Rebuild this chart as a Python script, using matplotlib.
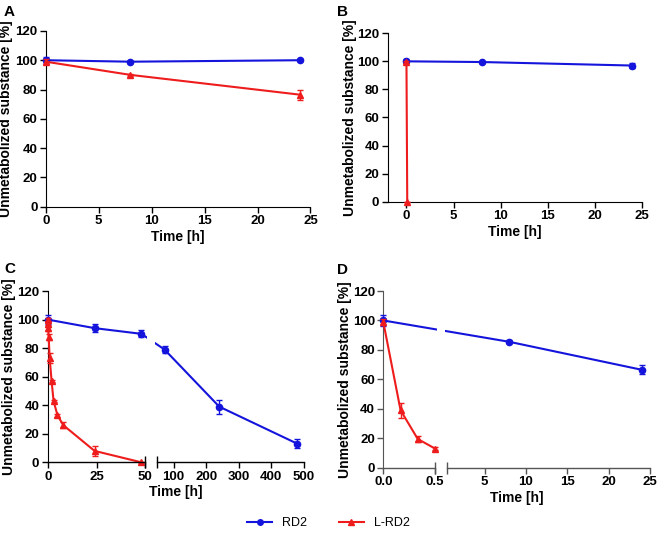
import numpy as np
import matplotlib
matplotlib.use('agg')
import matplotlib.pyplot as plt
from matplotlib.lines import Line2D
from matplotlib.patches import Rectangle
from matplotlib import font_manager

plt.rcParams['font.family'] = ['Liberation Sans', 'DejaVu Sans']
plt.rcParams['font.weight'] = 'bold'
plt.rcParams['font.size'] = 9

BLUE = '#1414dc'
RED = '#ee1c1c'

# panel A
a_t_rd2 = [0, 8, 24]
a_rd2 = [100, 99, 100]
a_rd2_err = [2, 0.8, 0.8]
a_t_lrd2 = [0, 8, 24]
a_lrd2 = [99, 90, 76.5]
a_lrd2_err = [1.5, 0.8, 3.5]

# panel B
b_t_rd2 = [0, 8, 24]
b_rd2 = [100, 99.5, 97]
b_rd2_err = [1.5, 0.8, 2]
b_t_lrd2 = [0, 0.083]
b_lrd2 = [99.5, 0]
b_lrd2_err = [1, 0]

# panel C
c_t_rd2 = [0, 24, 48, 72, 240, 480]
c_rd2 = [100, 94, 90, 79, 39, 13]
c_rd2_err = [3, 3, 2.5, 2.5, 5, 3]
c_t_lrd2 = [0, 0.083, 0.25, 0.5, 1, 2, 3, 5, 8, 24, 48]
c_lrd2 = [100, 97, 94, 88, 73, 57, 43, 33, 26, 8, 0]
c_lrd2_err = [1, 2, 2, 2, 3.5, 1, 1, 1, 2, 3.5, 0.5]

# panel D
d_t_rd2 = [0, 8, 24]
d_rd2 = [100, 85.5, 66.5]
d_rd2_err = [4, 1, 3]
d_t_lrd2 = [0, 0.167, 0.333, 0.5]
d_lrd2 = [99, 39, 19.5, 13]
d_lrd2_err = [2, 5, 2, 1]

BOLD = font_manager.FontProperties(family=['Liberation Sans', 'DejaVu Sans'],
                                   weight='bold', size=9.5)


def broken_scale(b, hi, w1, gap):
    def fwd(x):
        x = np.asarray(x, float)
        return np.where(x <= b, x / b * w1,
                        w1 + gap + (x - b) / (hi - b) * (1 - w1 - gap))

    def inv(u):
        u = np.asarray(u, float)
        return np.where(u <= w1, u / w1 * b,
                        np.where(u < w1 + gap, b,
                                 b + (u - w1 - gap) / (1 - w1 - gap) * (hi - b)))
    return fwd, inv


def series(ax, t, y, err, color, marker, ms, z):
    cont = ax.errorbar(t, y, yerr=err, color=color, marker=marker, ms=ms,
                       lw=1.5, capsize=2.5, elinewidth=1, capthick=1,
                       zorder=z, clip_on=False)
    cont.lines[0].set_clip_on(False)
    for art in cont.lines[1] + cont.lines[2]:
        art.set_clip_on(False)
        art.set_zorder(z)


def style(ax, label, lx, ly, ylx):
    ax.spines['top'].set_visible(False)
    ax.spines['right'].set_visible(False)
    ax.set_ylim(0, 120)
    ax.set_yticks(range(0, 121, 20))
    ax.tick_params(length=4, width=1, pad=2)
    for t in ax.get_xticklabels() + ax.get_yticklabels():
        t.set_fontproperties(BOLD)
    ax.set_ylabel('Unmetabolized substance [%]', fontsize=10, fontweight='bold')
    ax.yaxis.set_label_coords(ylx, 0.5)
    ax.set_xlabel('Time [h]', fontsize=10, fontweight='bold', labelpad=2)
    ax.text(lx, ly, label, transform=ax.transAxes, fontsize=11,
            fontweight='bold', ha='left', va='top')


def add_break(ax, w1, gap, col):
    ax.spines['bottom'].set_visible(False)
    tr = ax.transAxes
    ax.plot([0, w1], [0, 0], color=col, lw=1, transform=tr, clip_on=False, zorder=6)
    ax.plot([w1 + gap, 1], [0, 0], color=col, lw=1, transform=tr, clip_on=False, zorder=6)
    ax.plot([w1, w1 + gap], [0, 0], ls='none', marker='|', ms=8, mew=1,
            color=col, transform=tr, clip_on=False, zorder=6)
    ax.add_patch(Rectangle((w1 + 0.006, 0.01), gap - 0.014, 0.99, transform=tr,
                           facecolor='white', edgecolor='none', zorder=3.5))


fig = plt.figure(figsize=(6.57, 5.33), dpi=100)

axA = fig.add_axes([0.0696, 0.612, 0.403, 0.330])
series(axA, a_t_rd2, a_rd2, a_rd2_err, BLUE, 'o', 4.5, 3)
series(axA, a_t_lrd2, a_lrd2, a_lrd2_err, RED, '^', 4.5, 4)
axA.set_xlim(0, 25)
axA.set_xticks(range(0, 26, 5))
style(axA, 'A', -0.16, 1.15, -0.122)

axB = fig.add_axes([0.590, 0.6216, 0.387, 0.316])
series(axB, b_t_rd2, b_rd2, b_rd2_err, BLUE, 'o', 4.5, 3)
series(axB, b_t_lrd2, b_lrd2, b_lrd2_err, RED, '^', 4.5, 4)
axB.set_xlim(-2, 25)
axB.set_xticks(range(0, 26, 5))
style(axB, 'B', -0.2, 1.17, -0.122)

axC = fig.add_axes([0.0726, 0.1326, 0.390, 0.3214])
fwd, inv = broken_scale(50, 500, 0.381, 0.047)
axC.set_xscale('function', functions=(fwd, inv))
series(axC, c_t_rd2, c_rd2, c_rd2_err, BLUE, 'o', 4.5, 3)
series(axC, c_t_lrd2, c_lrd2, c_lrd2_err, RED, '^', 4.5, 4)
axC.set_xlim(0, 500)
axC.set_xticks([0, 25, 50, 100, 200, 300, 400, 500])
axC.set_xticklabels(['0', '25', '50', '100', '200', '300', '400', '500'])
axC.xaxis.set_minor_locator(matplotlib.ticker.NullLocator())
style(axC, 'C', -0.17, 1.17, -0.122)
add_break(axC, 0.381, 0.047, 'black')

axD = fig.add_axes([0.5834, 0.1225, 0.406, 0.3315])
fwd, inv = broken_scale(0.5, 25, 0.194, 0.046)
axD.set_xscale('function', functions=(fwd, inv))
series(axD, d_t_rd2, d_rd2, d_rd2_err, BLUE, 'o', 4.5, 3)
series(axD, d_t_lrd2, d_lrd2, d_lrd2_err, RED, '^', 4.5, 4)
axD.set_xlim(0, 25)
axD.set_xticks([0, 0.5, 5, 10, 15, 20, 25])
axD.set_xticklabels(['0.0', '0.5', '5', '10', '15', '20', '25'])
axD.xaxis.set_minor_locator(matplotlib.ticker.NullLocator())
style(axD, 'D', -0.175, 1.16, -0.118)
add_break(axD, 0.194, 0.046, '#555555')
axD.spines['left'].set_color('#555555')
axD.tick_params(color='#555555')

handles = [Line2D([], [], color=BLUE, marker='o', ms=4, lw=1.5),
           Line2D([], [], color=RED, marker='^', ms=4, lw=1.5)]
leg = fig.legend(handles, ['RD2', 'L-RD2'], loc='lower center', ncol=2,
                 bbox_to_anchor=(0.5, -0.014), frameon=False, handlelength=2,
                 columnspacing=2.5, prop={'weight': 'normal', 'size': 9})

fig.savefig('out.png', dpi=100)
